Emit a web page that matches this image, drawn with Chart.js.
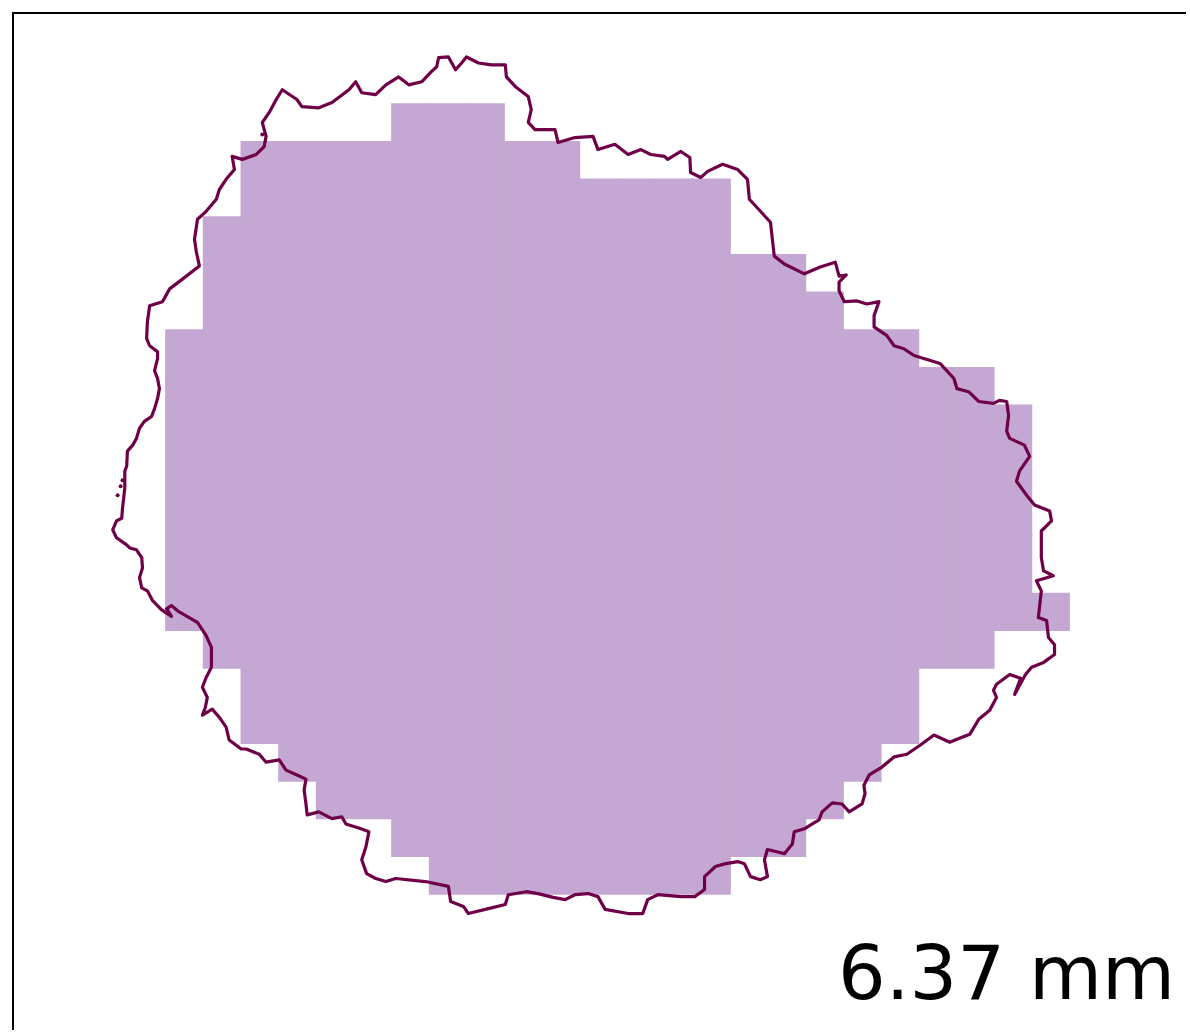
<!DOCTYPE html>
<html>
<head>
<meta charset="utf-8">
<script src="https://cdn.jsdelivr.net/npm/chart.js@4.4.1/dist/chart.umd.min.js"></script>
<style>
  html, body { margin: 0; padding: 0; background: #fff; }
  #mask-chart { display: block; }
</style>
</head>
<body>
<canvas id="mask-chart" width="1190" height="1034"></canvas>
<script>
// Mask cells, one entry per grid column: row of the top edge and row of the bottom edge
const cell_top =    [6, 3, 1, 1, 1, 1, 0, 0, 0, 1, 1, 2, 2, 2, 2, 4, 4, 5, 6, 6, 7, 7, 8, 13];
const cell_bottom = [14, 15, 17, 18, 19, 19, 20, 21, 21, 21, 21, 21, 21, 21, 21, 20, 20, 19, 18, 17, 15, 15, 14, 14];

// Traced outline of the region, in the same grid units (clockwise, closed)
const outline_x = [
  -0.21, -0.21, -0.42, -0.50, -0.48, -0.42, -0.08, 0.11, 0.45, 0.90,
  0.82, 0.77, 0.85, 1.08, 1.35, 1.43, 1.61, 1.83, 1.77, 2.04,
  2.41, 2.62, 2.67, 2.57, 2.75, 2.94, 3.10, 3.49, 3.62, 4.07,
  4.42, 4.87, 5.05, 5.21, 5.58, 5.85, 6.19, 6.46, 6.80, 7.06,
  7.20, 7.25, 7.51, 7.70, 7.86, 7.99, 8.31, 8.65, 9.02, 9.05,
  9.29, 9.63, 9.71, 9.63, 9.81, 10.34, 10.42, 10.87, 11.35, 11.48,
  11.93, 12.28, 12.62, 12.88, 13.25, 13.33, 13.68, 13.92, 13.94, 14.21,
  14.39, 14.79, 15.19, 15.45, 15.50, 16.06, 16.16, 16.43, 16.96, 17.38,
  17.78, 17.88, 18.07, 17.88, 17.88, 18.02, 18.36, 18.62, 18.94, 18.81,
  18.81, 19.15, 19.34, 19.60, 19.87, 20.13, 20.56, 20.93, 21.01, 21.32,
  21.59, 21.98, 22.14, 22.33, 22.38, 22.33, 22.41, 22.80, 22.94, 22.67,
  22.59, 22.86, 23.07, 23.47, 23.52, 23.25, 23.25, 23.31, 23.57, 23.12,
  23.25, 23.17, 23.39, 23.44, 23.60, 23.60, 23.31, 22.99, 22.83, 22.54,
  22.70, 22.41, 22.06, 21.98, 22.06, 21.88, 21.59, 21.35, 21.01, 20.82,
  20.40, 20.03, 19.68, 19.34, 19.02, 18.68, 18.54, 18.57, 18.49, 18.15,
  17.96, 17.70, 17.43, 17.35, 17.17, 16.96, 16.69, 16.64, 16.43, 15.98,
  15.90, 15.98, 15.79, 15.53, 15.37, 15.19, 14.84, 14.60, 14.31, 14.31,
  14.05, 13.68, 13.07, 12.80, 12.67, 12.28, 11.67, 11.48, 11.22, 10.87,
  10.61, 10.29, 9.89, 9.58, 9.10, 9.02, 8.57, 8.04, 7.91, 7.57,
  7.51, 6.90, 6.11, 5.85, 5.58, 5.34, 5.21, 5.32, 5.40, 5.19,
  4.79, 4.68, 4.42, 4.07, 3.76, 3.73, 3.68, 3.73, 3.49, 3.20,
  3.02, 2.67, 2.49, 2.14, 2.01, 1.69, 1.61, 1.43, 1.24, 0.98,
  1.06, 1.11, 0.98, 1.08, 1.22, 1.22, 1.22, 1.08, 0.85, 0.71,
  0.32, 0.16, 0.03, 0.16, -0.11, -0.34, -0.48, -0.63, -0.69, -0.61,
  -0.63, -0.77, -0.95, -1.03, -1.30, -1.40, -1.30, -1.16, -1.14, -1.08,
  -1.08, -1.03, -1.01, -0.87, -0.77, -0.69, -0.56, -0.37, -0.29, -0.21,
  -0.16, -0.21, -0.29, -0.21
];
const outline_y = [
  6.77, 6.59, 6.43, 6.24, 5.79, 5.37, 5.26, 4.92, 4.66, 4.31,
  3.94, 3.60, 3.07, 2.86, 2.54, 2.28, 2.01, 1.75, 1.40, 1.48,
  1.35, 1.14, 0.87, 0.50, 0.24, -0.11, -0.37, -0.11, 0.08, 0.11,
  -0.03, -0.37, -0.58, -0.29, -0.24, -0.50, -0.71, -0.50, -0.58, -0.85,
  -0.98, -1.22, -1.24, -0.90, -1.08, -1.24, -1.08, -1.03, -1.03, -0.71,
  -0.45, -0.19, 0.16, 0.50, 0.69, 0.69, 1.03, 0.90, 0.87, 1.22,
  1.08, 1.35, 1.22, 1.35, 1.40, 1.48, 1.27, 1.43, 1.83, 1.96,
  1.80, 1.61, 1.75, 2.01, 2.54, 3.15, 4.05, 4.26, 4.52, 4.34,
  4.21, 4.58, 4.55, 4.74, 4.97, 5.26, 5.24, 5.32, 5.26, 5.63,
  5.93, 6.16, 6.43, 6.51, 6.69, 6.77, 6.90, 7.30, 7.57, 7.65,
  7.91, 7.96, 7.88, 7.91, 8.28, 8.70, 8.89, 9.07, 9.37, 9.76,
  10.03, 10.40, 10.66, 10.82, 11.08, 11.35, 12.06, 12.41, 12.54, 12.67,
  12.94, 13.65, 13.73, 14.18, 14.37, 14.63, 14.84, 14.97, 15.16, 15.69,
  15.26, 15.16, 15.42, 15.58, 15.77, 16.11, 16.35, 16.75, 16.88, 16.96,
  16.77, 17.04, 17.28, 17.35, 17.62, 17.83, 18.10, 18.33, 18.60, 18.81,
  18.60, 18.57, 18.81, 19.02, 19.13, 19.26, 19.34, 19.66, 19.92, 19.81,
  20.08, 20.53, 20.61, 20.53, 20.19, 20.13, 20.19, 20.26, 20.53, 20.87,
  21.06, 21.06, 21.01, 21.14, 21.51, 21.51, 21.40, 21.06, 20.98, 21.01,
  21.14, 21.08, 20.98, 20.93, 21.01, 21.27, 21.38, 21.51, 21.32, 21.19,
  20.79, 20.66, 20.58, 20.66, 20.58, 20.45, 20.08, 19.74, 19.34, 19.26,
  19.13, 18.94, 18.99, 18.81, 18.89, 18.60, 18.23, 17.94, 17.83, 17.70,
  17.43, 17.49, 17.28, 17.14, 17.14, 16.90, 16.56, 16.30, 16.08, 16.24,
  16.03, 15.77, 15.50, 15.24, 14.97, 14.63, 14.44, 14.13, 13.78, 13.70,
  13.47, 13.33, 13.41, 13.62, 13.44, 13.20, 12.94, 12.86, 12.59, 12.33,
  12.06, 11.85, 11.80, 11.72, 11.53, 11.32, 11.08, 11.01, 10.74, 10.21,
  9.76, 9.63, 9.23, 9.07, 8.89, 8.62, 8.44, 8.31, 8.10, 7.83,
  7.57, 7.30, 7.09, 6.77
];

// Small detached bits of outline
const stray_x = [-1.27, -1.19, -1.14, 2.57];
const stray_y = [10.40, 10.16, 10.00, 0.82];

const size_label = "6.37 mm";

const mask_chart = document.getElementById("mask-chart");

let mask_data = cell_top.map((top, i) => ({x: i + 0.5, y: [top, cell_bottom[i]]}));
let outline_data = outline_x.map((x, i) => ({x: x, y: outline_y[i]}));
let stray_data = stray_x.map((x, i) => ({x: x, y: stray_y[i]}));

// Left/top frame lines and the size label in the lower right corner
const frame_plugin = {
  id: "frame",
  afterDraw(chart) {
    const {ctx, chartArea} = chart;
    ctx.save();
    ctx.strokeStyle = "#000";
    ctx.lineWidth = 2;
    ctx.beginPath();
    ctx.moveTo(chartArea.left + 1, chartArea.bottom);
    ctx.lineTo(chartArea.left + 1, chartArea.top + 1);
    ctx.lineTo(chartArea.right, chartArea.top + 1);
    ctx.stroke();
    ctx.font = '75px "DejaVu Sans"';
    ctx.fillStyle = "#000";
    ctx.textAlign = "right";
    ctx.textBaseline = "alphabetic";
    ctx.fillText(size_label, chartArea.right - 11, chartArea.bottom - 31);
    ctx.restore();
  }
};

new Chart(mask_chart, {
  type: "bar",
  data: {
    datasets: [{
      type: "line",
      data: outline_data,
      borderColor: "#6f0048",
      borderWidth: 3.2,
      borderJoinStyle: "round",
      borderCapStyle: "round",
      pointRadius: 0,
      tension: 0,
      fill: false,
      order: 0
    },
    {
      type: "scatter",
      data: stray_data,
      backgroundColor: "#6f0048",
      borderWidth: 0,
      pointRadius: 2,
      order: 0
    },
    {
      data: mask_data,
      backgroundColor: "#c4a8d3",
      borderWidth: 0,
      barPercentage: 1,
      categoryPercentage: 1,
      order: 1
    }
  ]
  },
  options: {
    responsive: false,
    animation: false,
    events: [],
    layout: {
      padding: {left: 12, top: 12, right: 0, bottom: 0}
    },
    plugins: {
      legend: {display: false},
      tooltip: {enabled: false}
    },
    scales: {
      x: {
        type: "linear",
        display: false,
        offset: false,
        min: -4.074,
        max: 27.09
      },
      y: {
        type: "linear",
        display: false,
        reverse: true,
        min: -2.434,
        max: 24.603
      }
    }
  },
  plugins: [frame_plugin]
});
</script>
</body>
</html>
